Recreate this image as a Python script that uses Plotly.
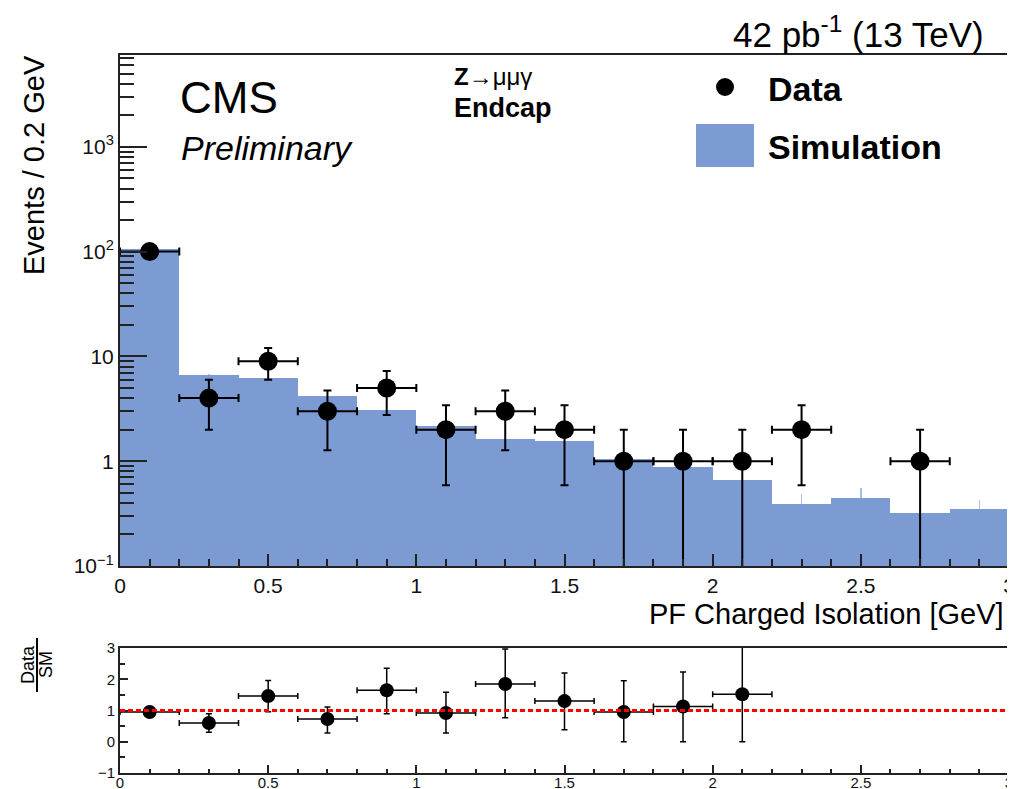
import plotly.graph_objects as go

# ---- data ----
bin_centers = [0.1, 0.3, 0.5, 0.7, 0.9, 1.1, 1.3, 1.5, 1.7, 1.9, 2.1, 2.3, 2.5, 2.7, 2.9]
sim_values = [105, 6.7, 6.2, 4.15, 3.05, 2.15, 1.62, 1.55, 1.04, 0.89, 0.66, 0.39, 0.45, 0.32, 0.35]
sim_err = [0, 0.05, 0, 0, 0, 0, 0, 0, 0, 0, 0, 0.1, 0.11, 0, 0.08]
data_values = [100, 4, 9, 3, 5, 2, 3, 2, 1, 1, 1, 2, None, 1, None]
data_err = [10, 2, 3, 1.73, 2.24, 1.41, 1.73, 1.41, 1, 1, 1, 1.41, 0, 1, 0]

ratio_x = [0.1, 0.3, 0.5, 0.7, 0.9, 1.1, 1.3, 1.5, 1.7, 1.9, 2.1]
ratio_values = [0.95, 0.6, 1.46, 0.73, 1.65, 0.92, 1.85, 1.3, 0.95, 1.13, 1.52]
ratio_err_up = [0.1, 0.3, 0.5, 0.38, 0.7, 0.66, 1.12, 0.9, 1.0, 1.1, 1.52]
ratio_err_down = [0.1, 0.3, 0.5, 0.45, 0.75, 0.64, 1.08, 0.92, 0.95, 1.13, 1.52]

y_tickvals = [0.1, 1, 10, 100, 1000]
y_ticktext = ["10<sup>\u22121</sup>", "1", "10", "10<sup>2</sup>", "10<sup>3</sup>"]
x_tickvals = [0, 0.5, 1, 1.5, 2, 2.5, 3]
x_ticktext = ["0", "0.5", "1", "1.5", "2", "2.5", "3"]
r_tickvals = [-1, 0, 1, 2, 3]
r_ticktext = ["\u22121", "0", "1", "2", "3"]

SIM_COLOR = "#7b9bd2"
FONT = "Liberation Sans, Arial, sans-serif"
W, H = 1015, 789
OFF = 8  # page body margin

def px_x(p):
    return (p - OFF) / W

def px_y(p):
    return 1 - (p - OFF) / H

fig = go.Figure()

fig.add_trace(go.Bar(
    x=bin_centers, y=sim_values, width=0.2,
    marker=dict(color=SIM_COLOR, line=dict(width=0)),
    error_y=dict(type="data", symmetric=False, array=sim_err,
                 arrayminus=[0] * len(sim_err), color="#a9bfe6", thickness=1.5, width=0),
    xaxis="x", yaxis="y", showlegend=False,
))

dlo = [min(e, 0.999 * v) if v is not None else 0 for e, v in zip(data_err, data_values)]
fig.add_trace(go.Scatter(
    x=bin_centers, y=data_values, mode="markers",
    marker=dict(color="black", size=19),
    error_x=dict(type="constant", value=0.1, color="black", thickness=2, width=4),
    error_y=dict(type="data", symmetric=False, array=data_err, arrayminus=dlo,
                 color="black", thickness=2, width=4),
    xaxis="x", yaxis="y", showlegend=False,
))

fig.add_trace(go.Scatter(
    x=ratio_x, y=ratio_values, mode="markers",
    marker=dict(color="black", size=14),
    error_x=dict(type="constant", value=0.1, color="black", thickness=1.5, width=3),
    error_y=dict(type="data", symmetric=False, array=ratio_err_up, arrayminus=ratio_err_down,
                 color="black", thickness=1.5, width=3),
    xaxis="x2", yaxis="y2", showlegend=False,
))

fig.add_shape(type="line", x0=0, x1=3, y0=1, y1=1, xref="x2", yref="y2",
              line=dict(color="red", width=3, dash="5px,3px"))

axis_line = dict(showline=True, linecolor="#222", linewidth=2, mirror=True,
                 showgrid=False, zeroline=False, automargin=False)

fig.update_layout(
    width=W, height=H,
    margin=dict(l=0, r=0, t=0, b=0, autoexpand=False),
    paper_bgcolor="white", plot_bgcolor="white",
    bargap=0,
    font=dict(family=FONT, color="black"),
    xaxis=dict(domain=[px_x(120), px_x(1009)], range=[0, 3], anchor="y",
               tickvals=x_tickvals, ticktext=x_ticktext, ticks="inside", ticklen=12,
               tickwidth=2, tickcolor="#222", tickfont=dict(size=21, color="#111"),
               minor=dict(dtick=0.1, ticks="inside", ticklen=7, tickwidth=2, tickcolor="#222"),
               **axis_line),
    yaxis=dict(domain=[px_y(566), px_y(55)], type="log", range=[-1, 3.876], anchor="x",
               tickvals=y_tickvals, ticktext=y_ticktext, ticks="inside", ticklen=27,
               tickwidth=2, tickcolor="#222", tickfont=dict(size=21, color="#111"),
               minor=dict(tickvals=[k * 10 ** e for e in range(-1, 4) for k in range(2, 10)],
                          ticks="inside", ticklen=14, tickwidth=2, tickcolor="#222"),
               **axis_line),
    xaxis2=dict(domain=[px_x(120), px_x(1009)], range=[0, 3], anchor="y2",
                tickvals=x_tickvals, ticktext=x_ticktext, ticks="inside", ticklen=8,
                tickwidth=1.5, tickcolor="#222", tickfont=dict(size=15, color="#111"),
                ticklabelstandoff=-5,
                minor=dict(dtick=0.1, ticks="inside", ticklen=4, tickwidth=1.5, tickcolor="#222"),
                **axis_line),
    yaxis2=dict(domain=[px_y(773), px_y(648)], range=[-1, 3], anchor="x2",
                tickvals=r_tickvals, ticktext=r_ticktext, ticks="inside", ticklen=8,
                tickwidth=1.5, tickcolor="#222", tickfont=dict(size=15, color="#111"),
                minor=dict(dtick=0.5, ticks="inside", ticklen=5, tickwidth=1.5, tickcolor="#222"),
                **axis_line),
)

ann = []
def txt(x, y, text, size, xanchor="left", yanchor="middle", textangle=0, color="black"):
    ann.append(dict(x=px_x(x), y=px_y(y), xref="paper", yref="paper", text=text,
                    showarrow=False, xanchor=xanchor, yanchor=yanchor, textangle=textangle,
                    font=dict(size=size, family=FONT, color=color)))

txt(986, 32, "42 pb<sup>-1</sup> (13 TeV)", 35, xanchor="right")
txt(178, 97, "CMS", 44)
txt(179, 148, "<i>Preliminary</i>", 34)
txt(452, 76, "<b>Z</b>\u2192\u03bc\u03bc\u03b3", 24)
txt(452, 108, "<b>Endcap</b>", 27)
txt(766, 89, "<b>Data</b>", 34)
txt(766, 147, "<b>Simulation</b>", 34)
txt(34, 165, "Events / 0.2 GeV", 29, xanchor="center", textangle=-90)
txt(1006, 614, "PF Charged Isolation [GeV]", 29, xanchor="right")
txt(28, 665, "Data", 18, xanchor="center", textangle=-90)
txt(46, 665, "SM", 18, xanchor="center", textangle=-90)
fig.update_layout(annotations=ann)

# legend symbols (drawn in paper space)
fig.add_shape(type="rect", xref="paper", yref="paper",
              x0=px_x(696), x1=px_x(754), y0=px_y(167), y1=px_y(124),
              fillcolor=SIM_COLOR, line=dict(width=0))
fig.add_shape(type="circle", xref="paper", yref="paper",
              x0=px_x(716), x1=px_x(734), y0=px_y(96), y1=px_y(78),
              fillcolor="black", line=dict(width=0))
fig.add_shape(type="line", xref="paper", yref="paper",
              x0=px_x(37), x1=px_x(37), y0=px_y(638), y1=px_y(692),
              line=dict(color="black", width=2))

fig.write_html("out.html")
